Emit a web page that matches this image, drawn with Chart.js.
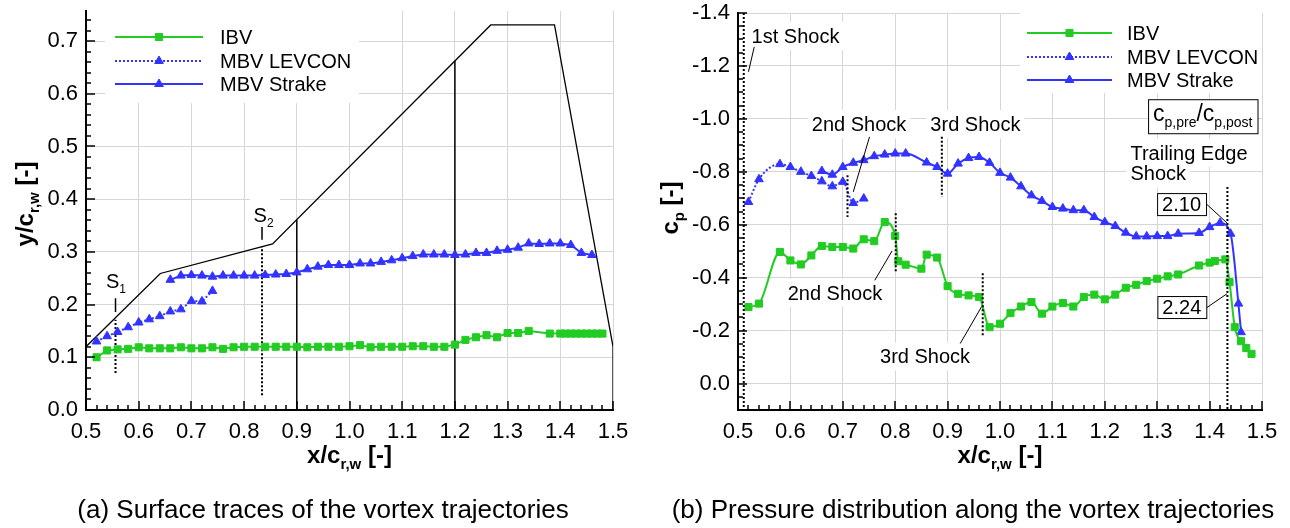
<!DOCTYPE html>
<html>
<head>
<meta charset="utf-8">
<script src="https://cdn.jsdelivr.net/npm/chart.js@4.4.1/dist/chart.umd.min.js"></script>
<style>
  body { margin: 0; background: #fff; width: 1290px; height: 528px; overflow: hidden; position: relative; }
  canvas { position: absolute; top: 0; }
  #traceChart { left: 0; }
  #cpChart { left: 645px; }
</style>
</head>
<body>
<canvas id="traceChart" width="645" height="528"></canvas>
<canvas id="cpChart" width="645" height="528"></canvas>
<script>
// ---- (a) surface traces: y/c over x/c ----
const ibvTraceX = [0.52,0.54,0.56,0.58,0.60,0.62,0.64,0.66,0.68,0.70,0.72,0.74,0.76,0.78,0.80,0.82,0.84,0.86,0.88,0.90,0.92,0.94,0.96,0.98,1.00,1.02,1.04,1.06,1.08,1.10,1.12,1.14,1.16,1.18,1.20,1.22,1.24,1.26,1.28,1.30,1.32,1.34,1.38,1.40,1.41,1.42,1.43,1.44,1.45,1.46,1.47,1.48];
const ibvTraceY = [0.100,0.113,0.115,0.116,0.119,0.117,0.117,0.117,0.119,0.117,0.117,0.119,0.116,0.119,0.120,0.120,0.120,0.120,0.120,0.120,0.119,0.120,0.120,0.120,0.121,0.123,0.119,0.120,0.120,0.120,0.121,0.121,0.120,0.120,0.124,0.133,0.138,0.142,0.138,0.146,0.146,0.150,0.145,0.145,0.145,0.145,0.145,0.145,0.145,0.145,0.145,0.145];
const levconTraceX = [0.52,0.54,0.56,0.58,0.60,0.62,0.64,0.66,0.68,0.70,0.72,0.74];
const levconTraceY = [0.130,0.140,0.148,0.157,0.166,0.172,0.178,0.187,0.191,0.207,0.206,0.226];
const strakeTraceX = [0.66,0.68,0.70,0.72,0.74,0.76,0.78,0.80,0.82,0.84,0.86,0.88,0.90,0.92,0.94,0.96,0.98,1.00,1.02,1.04,1.06,1.08,1.10,1.12,1.14,1.16,1.18,1.20,1.22,1.24,1.26,1.28,1.30,1.32,1.34,1.36,1.38,1.40,1.42,1.44,1.46];
const strakeTraceY = [0.247,0.255,0.256,0.255,0.253,0.255,0.255,0.255,0.255,0.256,0.257,0.258,0.261,0.267,0.272,0.275,0.275,0.275,0.278,0.278,0.281,0.284,0.288,0.292,0.295,0.295,0.295,0.294,0.295,0.298,0.298,0.302,0.304,0.308,0.316,0.315,0.316,0.316,0.313,0.298,0.294];
// wing planform outline and section cuts
const planformX = [0.5,0.641,0.854,1.268,1.389,1.5,1.5];
const planformY = [0.12,0.259,0.315,0.7305,0.7305,0.12,0.0];
const sectionX = [0.9, 1.2];
const sectionTop = [0.361, 0.662];
const stationX = [0.556, 0.834];
const stationBottom = [0.07, 0.028];
const stationTop = [0.171, 0.31];
const stationMarkLow = [0.186, 0.323];
const stationMarkHigh = [0.212, 0.347];

// ---- (b) pressure distribution: cp over x/c ----
const ibvCpX = [0.52,0.54,0.58,0.60,0.62,0.64,0.66,0.68,0.70,0.72,0.74,0.76,0.78,0.80,0.806,0.82,0.85,0.86,0.88,0.90,0.92,0.94,0.96,0.98,1.00,1.02,1.04,1.06,1.08,1.10,1.12,1.14,1.16,1.18,1.20,1.22,1.24,1.26,1.28,1.30,1.32,1.34,1.38,1.40,1.41,1.43,1.438,1.448,1.46,1.47,1.48];
const ibvCpY = [-0.289,-0.302,-0.497,-0.465,-0.450,-0.484,-0.520,-0.516,-0.516,-0.510,-0.545,-0.538,-0.610,-0.558,-0.462,-0.449,-0.434,-0.487,-0.476,-0.368,-0.339,-0.333,-0.327,-0.213,-0.226,-0.266,-0.291,-0.308,-0.264,-0.291,-0.304,-0.291,-0.327,-0.336,-0.318,-0.336,-0.362,-0.373,-0.387,-0.396,-0.405,-0.412,-0.446,-0.457,-0.463,-0.469,-0.383,-0.213,-0.160,-0.134,-0.112];
const levconCpX = [0.52,0.54,0.58,0.60,0.62,0.64,0.66,0.68,0.70,0.72,0.74];
const levconCpY = [-0.686,-0.772,-0.829,-0.818,-0.800,-0.784,-0.764,-0.745,-0.762,-0.682,-0.699];
const strakeCpX = [0.66,0.68,0.70,0.72,0.74,0.76,0.78,0.80,0.82,0.86,0.88,0.90,0.92,0.94,0.96,0.98,1.00,1.02,1.04,1.06,1.08,1.10,1.12,1.14,1.16,1.18,1.20,1.22,1.24,1.26,1.28,1.30,1.32,1.34,1.38,1.40,1.42,1.44,1.455,1.46];
const strakeCpY = [-0.803,-0.789,-0.818,-0.834,-0.844,-0.859,-0.865,-0.869,-0.869,-0.835,-0.818,-0.793,-0.831,-0.852,-0.856,-0.834,-0.796,-0.778,-0.745,-0.711,-0.690,-0.667,-0.661,-0.655,-0.655,-0.629,-0.610,-0.595,-0.570,-0.556,-0.556,-0.557,-0.557,-0.566,-0.569,-0.591,-0.607,-0.566,-0.302,-0.194];
// shock positions (dotted markers)
const shockX = [0.511, 0.709, 0.801, 0.889, 0.967, 1.434];
const shockTop = [-1.40, -0.787, -0.643, -0.932, -0.417, -0.743];
const shockBottom = [0.10, -0.629, -0.421, -0.705, -0.175, 0.10];

const FONT = '"Liberation Sans", Arial, Helvetica, sans-serif';
const GREEN = '#22cc22';
const BLUE = '#3333ff';
const GRID = '#d6d6d6';

function font(size, bold) {
    return (bold ? 'bold ' : '') + size + 'px ' + FONT;
}

function pts(xs, ys) {
    return xs.map((x, i) => ({ x: x, y: ys[i] }));
}

// vertical segments, broken apart by null points
function segs(xs, lo, hi) {
    const out = [];
    xs.forEach((x, i) => {
        out.push({ x: x, y: lo[i] }, { x: x, y: hi[i] }, { x: x, y: null });
    });
    return out;
}

// text with subscripts: parts = [[text, isSub], ...]
function richWidth(ctx, parts, size, bold) {
    let w = 0;
    parts.forEach(p => {
        ctx.font = font(p[1] ? Math.round(size * 0.62) : size, bold);
        w += ctx.measureText(p[0]).width;
    });
    return w;
}
function drawRich(ctx, parts, x, y, size, bold, align) {
    const w = richWidth(ctx, parts, size, bold);
    let cx = align === 'center' ? x - w / 2 : (align === 'right' ? x - w : x);
    ctx.textAlign = 'left';
    ctx.textBaseline = 'alphabetic';
    parts.forEach(p => {
        ctx.font = font(p[1] ? Math.round(size * 0.62) : size, bold);
        ctx.fillText(p[0], cx, y + (p[1] ? size * 0.25 : 0));
        cx += ctx.measureText(p[0]).width;
    });
    return w;
}

// inward tick marks along bottom and left axes
function drawInwardTicks(chart, stepX, majorX, stepY, majorY) {
    const ctx = chart.ctx, a = chart.chartArea;
    const xs = chart.scales.x, ys = chart.scales.y;
    const isMajor = (v, m) => Math.abs(v / m - Math.round(v / m)) < 1e-6;
    ctx.save();
    ctx.strokeStyle = '#000';
    ctx.lineWidth = 1.5;
    ctx.beginPath();
    const nx = Math.round((xs.max - xs.min) / stepX);
    for (let k = 0; k <= nx; k++) {
        const v = xs.min + k * stepX;
        const px = Math.round(xs.getPixelForValue(v));
        const len = isMajor(v, majorX) ? 9 : 5;
        ctx.moveTo(px, a.bottom);
        ctx.lineTo(px, a.bottom - len);
    }
    const lo = Math.ceil(ys.min / stepY - 1e-3), hi = Math.floor(ys.max / stepY + 1e-3);
    for (let k = lo; k <= hi; k++) {
        const v = k * stepY;
        const py = Math.round(ys.getPixelForValue(v));
        const len = isMajor(v, majorY) ? 9 : 5;
        ctx.moveTo(a.left, py);
        ctx.lineTo(a.left + len, py);
    }
    ctx.stroke();
    ctx.restore();
}

function drawLegend(chart, x0, x1, tx, rows) {
    const ctx = chart.ctx;
    ctx.save();
    rows.forEach(r => {
        ctx.strokeStyle = r.color;
        ctx.fillStyle = r.color;
        ctx.lineWidth = 2;
        ctx.setLineDash(r.dash || []);
        ctx.beginPath();
        ctx.moveTo(x0, r.y);
        ctx.lineTo(x1, r.y);
        ctx.stroke();
        ctx.setLineDash([]);
        ctx.lineWidth = 1;
        Chart.helpers.drawPoint(ctx, { pointStyle: r.style, radius: 5, rotation: 0, borderWidth: 1 }, (x0 + x1) / 2, r.y);
        ctx.fillStyle = '#000';
        ctx.font = font(20);
        ctx.textAlign = 'left';
        ctx.textBaseline = 'middle';
        ctx.fillText(r.label, tx, r.y + 1);
    });
    ctx.restore();
}

function drawAxisTitles(chart, xParts, yParts, yBase, yMid, captionText, captionX) {
    const ctx = chart.ctx, a = chart.chartArea;
    ctx.save();
    ctx.fillStyle = '#000';
    drawRich(ctx, xParts, (a.left + a.right) / 2, 463, 24, true, 'center');
    ctx.translate(yBase, yMid);
    ctx.rotate(-Math.PI / 2);
    drawRich(ctx, yParts, 0, 0, 24, true, 'center');
    ctx.restore();
    ctx.save();
    ctx.fillStyle = '#000';
    ctx.font = font(26);
    ctx.textAlign = 'center';
    ctx.textBaseline = 'alphabetic';
    ctx.fillText(captionText, captionX, 518);
    ctx.restore();
}

function axisOptions(min, max, step, fitSize, isX, reverse) {
    return {
        type: 'linear',
        min: min,
        max: max,
        reverse: !!reverse,
        afterFit: s => {
            if (isX) { s.height = fitSize; s.paddingLeft = 0; s.paddingRight = 0; }
            else { s.width = fitSize; s.paddingTop = 0; s.paddingBottom = 0; }
        },
        ticks: {
            stepSize: step,
            includeBounds: false,
            autoSkip: false,
            maxRotation: 0,
            padding: isX ? 9 : 8,
            color: '#000',
            font: { family: FONT, size: 22 },
            callback: v => (Math.abs(v) < 1e-9 ? 0 : v).toFixed(1)
        },
        grid: { color: GRID, lineWidth: 1, drawTicks: false },
        border: { color: '#000', width: 2 }
    };
}

function series(data, color, style, dash, smooth) {
    return {
        data: data,
        showLine: true,
        borderColor: color,
        backgroundColor: color,
        borderWidth: 2,
        borderDash: dash || [],
        pointStyle: style,
        pointRadius: 5,
        pointBorderWidth: 1,
        pointBorderColor: color,
        pointBackgroundColor: color,
        cubicInterpolationMode: smooth ? 'monotone' : 'default',
        tension: 0
    };
}

function plainLine(data, width, dash) {
    return {
        data: data,
        showLine: true,
        borderColor: '#000',
        borderWidth: width,
        borderDash: dash || [],
        pointRadius: 0,
        spanGaps: false,
        tension: 0
    };
}

// ---------- chart (a) ----------
const traceDecor = {
    id: 'traceDecor',
    beforeDatasetsDraw(chart) {
        const ctx = chart.ctx, a = chart.chartArea;
        const x = chart.scales.x, y = chart.scales.y;
        ctx.save();
        ctx.fillStyle = '#fff';
        ctx.fillRect(a.left + 19, a.top, 254, 92);
        ctx.fillRect(x.getPixelForValue(0.811), y.getPixelForValue(0.41), 30, 32);
        ctx.restore();
    },
    afterDraw(chart) {
        const ctx = chart.ctx, a = chart.chartArea;
        const x = chart.scales.x, y = chart.scales.y;
        drawInwardTicks(chart, 0.02, 0.1, 0.02, 0.1);
        drawLegend(chart, a.left + 29, a.left + 117, a.left + 134, [
            { label: 'IBV', color: GREEN, style: 'rect', y: 37 },
            { label: 'MBV LEVCON', color: BLUE, style: 'triangle', dash: [2, 2], y: 61 },
            { label: 'MBV Strake', color: BLUE, style: 'triangle', y: 84 }
        ]);
        ctx.save();
        ctx.fillStyle = '#000';
        drawRich(ctx, [['S', false], ['1', true]], x.getPixelForValue(0.538), y.getPixelForValue(0.2315), 20, false, 'left');
        drawRich(ctx, [['S', false], ['2', true]], x.getPixelForValue(0.818), y.getPixelForValue(0.357), 20, false, 'left');
        ctx.restore();
        drawAxisTitles(chart, [['x/c', false], ['r,w', true], [' [-]', false]],
            [['y/c', false], ['r,w', true], [' [-]', false]], 33, 204,
            '(a) Surface traces of the vortex trajectories', 323);
    }
};

new Chart(document.getElementById('traceChart'), {
    type: 'scatter',
    data: {
        datasets: [
            series(pts(ibvTraceX, ibvTraceY), GREEN, 'rect'),
            series(pts(levconTraceX, levconTraceY), BLUE, 'triangle', [2, 2]),
            series(pts(strakeTraceX, strakeTraceY), BLUE, 'triangle'),
            plainLine(pts(planformX, planformY), 1.3),
            plainLine(segs(sectionX, [0, 0], sectionTop), 1.5),
            plainLine(segs(stationX, stationBottom, stationTop), 2, [2, 2]),
            plainLine(segs(stationX, stationMarkLow, stationMarkHigh), 1.5)
        ]
    },
    options: {
        responsive: false,
        animation: false,
        events: [],
        layout: { padding: { top: 11, right: 32, left: 0, bottom: 0 } },
        plugins: { legend: { display: false }, tooltip: { enabled: false } },
        scales: {
            x: axisOptions(0.5, 1.5, 0.1, 118, true),
            y: axisOptions(0, 0.757, 0.1, 86, false)
        }
    },
    plugins: [traceDecor]
});

// ---------- chart (b) ----------
const cpNotes = [
    { text: '1st Shock', x: 0.526, y: -1.313, align: 'left' },
    { text: '2nd Shock', x: 0.731, y: -0.980, align: 'center' },
    { text: '3rd Shock', x: 0.953, y: -0.980, align: 'center' },
    { text: '2nd Shock', x: 0.685, y: -0.342, align: 'center' },
    { text: '3rd Shock', x: 0.857, y: -0.102, align: 'center' },
    { text: 'Trailing Edge', x: 1.249, y: -0.871, align: 'left' },
    { text: 'Shock', x: 1.249, y: -0.793, align: 'left' }
];
const cpBoxes = [
    { text: '2.10', x: 1.3465, y: -0.678 },
    { text: '2.24', x: 1.347, y: -0.289 }
];
const cpLeaders = [
    [0.531, -1.272, 0.520, -1.178],
    [0.751, -0.932, 0.720, -0.724],
    [0.761, -0.390, 0.794, -0.501],
    [0.924, -0.151, 0.965, -0.291],
    [1.393, -0.680, 1.433, -0.607],
    [1.394, -0.286, 1.433, -0.339]
];

function noteBox(ctx, n, x, y) {
    ctx.font = font(20);
    const w = ctx.measureText(n.text).width;
    const px = x.getPixelForValue(n.x), py = y.getPixelForValue(n.y);
    const left = n.align === 'left' ? px : px - w / 2;
    return { left: left, top: py - 12, w: w, h: 24, py: py };
}

const cpDecor = {
    id: 'cpDecor',
    beforeDatasetsDraw(chart) {
        const ctx = chart.ctx, a = chart.chartArea;
        const x = chart.scales.x, y = chart.scales.y;
        ctx.save();
        ctx.fillStyle = '#fff';
        ctx.fillRect(a.right - 242, a.top, 242, 80);
        cpNotes.forEach(n => {
            const b = noteBox(ctx, n, x, y);
            ctx.fillStyle = '#fff';
            ctx.fillRect(b.left - 4, b.top - 2, b.w + 8, b.h + 4);
        });
        ctx.restore();
    },
    afterDraw(chart) {
        const ctx = chart.ctx, a = chart.chartArea;
        const x = chart.scales.x, y = chart.scales.y;
        drawInwardTicks(chart, 0.02, 0.1, 0.05, 0.2);
        drawLegend(chart, a.right - 235, a.right - 150, a.right - 135, [
            { label: 'IBV', color: GREEN, style: 'rect', y: 33 },
            { label: 'MBV LEVCON', color: BLUE, style: 'triangle', dash: [2, 2], y: 57 },
            { label: 'MBV Strake', color: BLUE, style: 'triangle', y: 80 }
        ]);
        ctx.save();
        // leader lines
        ctx.strokeStyle = '#000';
        ctx.lineWidth = 1;
        ctx.beginPath();
        cpLeaders.forEach(l => {
            ctx.moveTo(x.getPixelForValue(l[0]), y.getPixelForValue(l[1]));
            ctx.lineTo(x.getPixelForValue(l[2]), y.getPixelForValue(l[3]));
        });
        ctx.stroke();
        // text labels
        ctx.fillStyle = '#000';
        cpNotes.forEach(n => {
            const b = noteBox(ctx, n, x, y);
            ctx.font = font(20);
            ctx.textAlign = 'left';
            ctx.textBaseline = 'middle';
            ctx.fillText(n.text, b.left, b.py + 1);
        });
        // boxed ratio values
        cpBoxes.forEach(bx => {
            ctx.font = font(20);
            const w = ctx.measureText(bx.text).width;
            const px = x.getPixelForValue(bx.x), py = y.getPixelForValue(bx.y);
            ctx.fillStyle = '#fff';
            ctx.fillRect(px - w / 2 - 5, py - 11, w + 10, 22);
            ctx.strokeRect(px - w / 2 - 5 + 0.5, py - 11 + 0.5, w + 10, 22);
            ctx.fillStyle = '#000';
            ctx.textAlign = 'center';
            ctx.textBaseline = 'middle';
            ctx.fillText(bx.text, px, py + 1);
        });
        // c_p,pre / c_p,post header box
        const hx = x.getPixelForValue(1.387), hy = y.getPixelForValue(-1.010);
        const parts = [['c', false], ['p,pre', true], ['/c', false], ['p,post', true]];
        const hw = richWidth(ctx, parts, 23, false);
        ctx.fillStyle = '#fff';
        ctx.fillRect(hx - hw / 2 - 5, hy - 17, hw + 10, 34);
        ctx.strokeRect(hx - hw / 2 - 5 + 0.5, hy - 17 + 0.5, hw + 10, 34);
        ctx.fillStyle = '#000';
        drawRich(ctx, parts, hx, hy + 5, 23, false, 'center');
        ctx.restore();
        drawAxisTitles(chart, [['x/c', false], ['r,w', true], [' [-]', false]],
            [['c', false], ['p', true], [' [-]', false]], 33, 208,
            '(b) Pressure distribution along the vortex trajectories', 328);
    }
};

new Chart(document.getElementById('cpChart'), {
    type: 'scatter',
    data: {
        datasets: [
            plainLine(segs(shockX, shockTop, shockBottom), 2, [2, 2]),
            series(pts(ibvCpX, ibvCpY), GREEN, 'rect', null, true),
            series(pts(levconCpX, levconCpY), BLUE, 'triangle', [2, 2], true),
            series(pts(strakeCpX, strakeCpY), BLUE, 'triangle', null, true)
        ]
    },
    options: {
        responsive: false,
        animation: false,
        events: [],
        layout: { padding: { top: 13, right: 28, left: 0, bottom: 0 } },
        plugins: { legend: { display: false }, tooltip: { enabled: false } },
        scales: {
            x: axisOptions(0.5, 1.5, 0.1, 118, true),
            y: axisOptions(-1.40001, 0.1, 0.2, 93, false, true)
        }
    },
    plugins: [cpDecor]
});
</script>
</body>
</html>
